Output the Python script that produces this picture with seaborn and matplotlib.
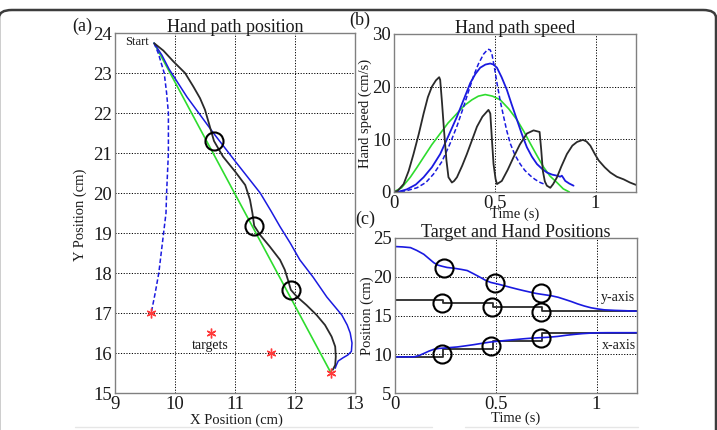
import matplotlib
matplotlib.use("Agg")
import matplotlib.pyplot as plt
import seaborn as sns
from matplotlib.patches import FancyBboxPatch
from matplotlib.lines import Line2D

# --- Panel (a): hand path position ---
start_xy = (9.65, 23.75)
target_x = [9.6, 10.6, 11.6, 12.6]
target_y = [17.0, 16.5, 16.0, 15.5]

green_x = [9.65, 12.6]
green_y = [23.75, 15.5]

dash_x = [9.65, 9.72, 9.78, 9.82, 9.86, 9.89, 9.89, 9.86, 9.85, 9.81, 9.73, 9.67, 9.61]
dash_y = [23.75, 23.5, 23.2, 23.0, 22.5, 22.0, 21.0, 20.0, 19.5, 19.0, 18.0, 17.5, 17.05]

blue_x = [9.65, 9.78, 9.9, 10.05, 10.2, 10.42, 10.64, 11.0, 11.42, 11.6, 11.75, 11.92,
          12.08, 12.3, 12.53, 12.78, 12.87, 12.92, 12.95, 12.94, 12.88, 12.8, 12.72,
          12.69, 12.67]
blue_y = [23.75, 23.45, 23.1, 22.75, 22.4, 21.95, 21.5, 20.8, 20.0, 19.55, 19.16, 18.75,
          18.33, 17.9, 17.4, 16.95, 16.7, 16.5, 16.25, 16.04, 15.95, 15.88, 15.8,
          15.7, 15.62]

black_x = [9.656, 9.806, 9.972, 10.167, 10.306, 10.417, 10.5, 10.556, 10.611, 10.65,
           10.8, 11.0, 11.17, 11.25, 11.29, 11.32, 11.42, 11.58, 11.75, 11.83, 11.89,
           11.93, 12.03, 12.19, 12.36, 12.5, 12.61, 12.67, 12.68, 12.67, 12.63]
black_y = [23.74, 23.56, 23.29, 23.0, 22.66, 22.37, 22.08, 21.79, 21.5, 21.3,
           20.91, 20.54, 20.2, 19.83, 19.5, 19.18, 18.95, 18.66, 18.33, 18.08, 17.79,
           17.58, 17.41, 17.2, 16.95, 16.7, 16.41, 16.16, 15.91, 15.7, 15.58]

circle_x = [10.65, 11.32, 11.93]
circle_y = [21.3, 19.18, 17.58]

# --- Panel (b): hand path speed ---
spd_black_t = [0, 0.02, 0.05, 0.075, 0.099, 0.125, 0.149, 0.17, 0.19, 0.21, 0.226, 0.231,
               0.24, 0.25, 0.262, 0.272, 0.289, 0.3, 0.314, 0.34, 0.363, 0.39, 0.413, 0.44,
               0.47, 0.479, 0.487, 0.495, 0.505, 0.512, 0.536, 0.565, 0.594, 0.625, 0.66,
               0.693, 0.723, 0.731, 0.739, 0.749, 0.759, 0.776, 0.79, 0.809, 0.83, 0.858,
               0.885, 0.908, 0.937, 0.955, 0.974, 0.995, 1.015, 1.045, 1.073, 1.105, 1.139,
               1.17, 1.2]
spd_black_v = [0, 0.2, 1.5, 4.0, 7.2, 11.0, 14.9, 18.0, 20.0, 21.2, 21.8, 21.3,
               17.0, 11.7, 6.0, 2.8, 1.8, 2.1, 2.8, 5.0, 7.2, 10.0, 12.4, 14.3,
               15.6, 14.9, 10.0, 5.3, 2.5, 1.5, 2.1, 4.2, 6.6, 9.0, 11.1,
               11.7, 11.4, 8.0, 4.0, 2.0, 1.2, 0.8, 1.5, 2.8, 4.8, 7.2,
               8.8, 9.5, 9.9, 9.6, 8.8, 7.3, 6.0, 4.7, 3.7, 2.9, 2.4,
               1.8, 1.35]

spd_green_t = [0, 0.04, 0.083, 0.115, 0.149, 0.19, 0.231, 0.27, 0.314, 0.35, 0.388, 0.42,
               0.454, 0.49, 0.528, 0.57, 0.611, 0.645, 0.677, 0.71, 0.743, 0.775, 0.809,
               0.84, 0.87]
spd_green_v = [0, 0.8, 2.8, 4.6, 6.6, 9.0, 11.1, 13.1, 14.9, 16.4, 17.5, 18.2,
               18.5, 18.2, 17.5, 15.8, 13.7, 11.5, 9.2, 6.9, 4.7, 3.0, 1.8,
               0.6, 0]

spd_blue_t = [0, 0.03, 0.066, 0.11, 0.149, 0.19, 0.231, 0.27, 0.314, 0.35, 0.38, 0.405,
              0.429, 0.455, 0.479, 0.495, 0.512, 0.535, 0.561, 0.585, 0.611, 0.635, 0.66,
              0.685, 0.71, 0.735, 0.759, 0.785, 0.809, 0.825, 0.833, 0.84, 0.85, 0.87,
              0.891]
spd_blue_v = [0, 0.1, 0.5, 1.4, 2.8, 4.7, 7.2, 10.5, 14.3, 17.8, 20.7, 22.4,
              23.6, 24.2, 24.4, 24.2, 23.6, 21.8, 19.4, 16.6, 13.7, 11.0, 8.5,
              6.7, 5.3, 4.4, 3.7, 3.3, 3.1, 2.9, 3.1, 2.7, 2.1, 1.6,
              1.2]

spd_dash_t = [0, 0.06, 0.116, 0.16, 0.198, 0.24, 0.28, 0.315, 0.347, 0.372, 0.396, 0.42,
              0.446, 0.467, 0.478, 0.487, 0.5, 0.512, 0.528, 0.545, 0.56, 0.578, 0.6,
              0.627, 0.65, 0.677, 0.7, 0.726, 0.746]
spd_dash_v = [0, 0.2, 0.8, 1.8, 3.4, 5.8, 9.2, 12.6, 16.2, 19.2, 22.0, 24.3,
              26.2, 27.1, 27.0, 26.2, 23.5, 20.7, 17.3, 14.3, 11.7, 9.2, 7.1,
              5.3, 4.1, 3.1, 2.4, 1.8, 1.5]

# --- Panel (c): target and hand positions over time ---
hy_t = [0, 0.04, 0.079, 0.11, 0.145, 0.17, 0.195, 0.215, 0.236, 0.26, 0.294, 0.33, 0.36,
        0.39, 0.426, 0.45, 0.476, 0.496, 0.52, 0.542, 0.575, 0.608, 0.64, 0.674, 0.7,
        0.724, 0.75, 0.774, 0.81, 0.84, 0.875, 0.906, 0.94, 0.972, 1.005, 1.038, 1.09,
        1.137, 1.2]
hy_v = [23.9, 23.85, 23.76, 23.4, 22.9, 22.35, 21.8, 21.5, 21.35, 21.2, 21.1, 20.95, 20.8,
        20.4, 19.9, 19.55, 19.27, 19.15, 19.0, 18.85, 18.62, 18.4, 18.2, 18.0, 17.85,
        17.75, 17.65, 17.56, 17.35, 17.1, 16.8, 16.5, 16.22, 16.0, 15.85, 15.73, 15.66,
        15.62, 15.56]

hx_t = [0, 0.096, 0.12, 0.145, 0.17, 0.195, 0.22, 0.245, 0.31, 0.35, 0.393, 0.435, 0.476,
        0.52, 0.559, 0.6, 0.641, 0.68, 0.724, 0.765, 0.807, 0.85, 0.889, 0.93, 0.972,
        1.01, 1.055, 1.2]
hx_v = [9.66, 9.66, 9.82, 10.1, 10.4, 10.64, 10.75, 10.8, 10.94, 11.08, 11.24, 11.42, 11.58,
        11.7, 11.8, 11.9, 12.0, 12.08, 12.14, 12.2, 12.3, 12.45, 12.56, 12.66, 12.73,
        12.77, 12.78, 12.78]

step_t = [0, 0.24, 0.485, 0.73, 1.2]
ty_v = [17.05, 16.6, 16.07, 15.55, 15.55]
tx_v = [9.65, 10.7, 11.7, 12.72, 12.72]

c_hand_t = [0.245, 0.496, 0.724]
c_hand_y = [21.15, 19.2, 17.85]
c_targ_t = [0.236, 0.484, 0.727]
c_targ_y = [16.65, 16.14, 15.5]
c_x_t = [0.236, 0.476, 0.727]
c_x_v = [10.03, 11.1, 12.14]

BLUE = "#1a1ae0"
GREEN = "#2edc2e"
BLACK = "#2a2a2a"
RED = "#ff3a3a"

sns.set_theme(style="white")
plt.rcParams["font.family"] = ["Liberation Serif", "DejaVu Serif"]

fig = plt.figure(figsize=(7.17, 4.30), dpi=100)
W, H = 717.0, 430.0


def px_axes(l, t, r, b):
    return fig.add_axes([l / W, 1 - b / H, (r - l) / W, (b - t) / H])


ax_a = px_axes(115, 33, 355, 393)
ax_b = px_axes(393.5, 34, 636, 192)
ax_c = px_axes(394.5, 238, 637, 393)


def style(ax):
    for s in ax.spines.values():
        s.set_color("#808080")
        s.set_linewidth(1.0)
    ax.grid(True, color="black", linestyle=(0, (1.2, 1.6)), linewidth=0.7)
    ax.tick_params(axis="both", direction="in", length=2.5, color="#808080",
                   labelsize=13.5, pad=2, labelcolor="#1a1a1a")
    ax.set_axisbelow(True)


def path(ax, x, y, color, lw, **kw):
    sns.lineplot(x=x, y=y, ax=ax, color=color, lw=lw, sort=False, estimator=None, **kw)


# panel (a)
path(ax_a, green_x, green_y, GREEN, 1.2)
path(ax_a, dash_x, dash_y, BLUE, 1.1, linestyle=(0, (3, 1.6)))
path(ax_a, blue_x, blue_y, BLUE, 1.1)
path(ax_a, black_x, black_y, BLACK, 1.3)
ax_a.plot(circle_x, circle_y, "o", ms=13, mfc="none", mec="black", mew=1.5)
ax_a.plot(target_x, target_y, ls="none", marker=(6, 2, 0), ms=7, color=RED, mew=1.0)
ax_a.text(start_xy[0] - 0.08, start_xy[1] + 0.02, "Start", ha="right", va="center",
          fontsize=9, color="#1a1a1a")
ax_a.text(10.58, 16.2, "targets", ha="center", va="center", fontsize=10, color="#1a1a1a")
ax_a.set_xlim(9, 13)
ax_a.set_ylim(15, 24)
ax_a.set_xticks([9, 10, 11, 12, 13])
ax_a.set_yticks(range(15, 25))
style(ax_a)
ax_a.set_title("Hand path position", fontsize=13, pad=1)
ax_a.set_xlabel("X Position (cm)", fontsize=10.5)
ax_a.set_ylabel("Y Position (cm)", fontsize=10.5)
ax_a.xaxis.set_label_coords(0.504, -0.075)
ax_a.yaxis.set_label_coords(-0.146, 0.494)

# panel (b)
path(ax_b, spd_green_t, spd_green_v, GREEN, 1.2)
path(ax_b, spd_dash_t, spd_dash_v, BLUE, 1.1, linestyle=(0, (3, 1.6)))
path(ax_b, spd_blue_t, spd_blue_v, BLUE, 1.3)
path(ax_b, spd_black_t, spd_black_v, BLACK, 1.3)
ax_b.set_xlim(0, 1.2)
ax_b.set_ylim(0, 30)
ax_b.set_xticks([0, 0.5, 1])
ax_b.set_xticklabels(["0", "0.5", "1"])
ax_b.set_yticks([0, 10, 20, 30])
style(ax_b)
ax_b.set_title("Hand path speed", fontsize=13, pad=1)
ax_b.set_xlabel("Time (s)", fontsize=10.5)
ax_b.set_ylabel("Hand speed (cm/s)", fontsize=10.5)
ax_b.xaxis.set_label_coords(0.5, -0.139)
ax_b.yaxis.set_label_coords(-0.1175, 0.5)

# panel (c)
ax_c.step(step_t, ty_v, where="post", color=BLACK, lw=1.3)
ax_c.step(step_t, tx_v, where="post", color=BLACK, lw=1.3)
path(ax_c, hy_t, hy_v, BLUE, 1.2)
path(ax_c, hx_t, hx_v, BLUE, 1.2)
for tt, vv in [(c_hand_t, c_hand_y), (c_targ_t, c_targ_y), (c_x_t, c_x_v)]:
    ax_c.plot(tt, vv, "o", ms=13, mfc="none", mec="black", mew=1.5)
ax_c.text(1.105, 17.35, "y-axis", ha="center", va="center", fontsize=10, color="#1a1a1a")
ax_c.text(1.11, 11.1, "x-axis", ha="center", va="center", fontsize=10, color="#1a1a1a")
ax_c.set_xlim(0, 1.2)
ax_c.set_ylim(5, 25)
ax_c.set_xticks([0, 0.5, 1])
ax_c.set_xticklabels(["0", "0.5", "1"])
ax_c.set_yticks([5, 10, 15, 20, 25])
style(ax_c)
ax_c.set_title("Target and Hand Positions", fontsize=13, pad=1)
ax_c.set_xlabel("Time (s)", fontsize=10.5)
ax_c.set_ylabel("Position (cm)", fontsize=10.5)
ax_c.xaxis.set_label_coords(0.5, -0.161)
ax_c.yaxis.set_label_coords(-0.113, 0.497)

for ax in (ax_a, ax_b, ax_c):
    ax.xaxis.label.set_va("center")
    ax.yaxis.label.set_va("center")
    ax.xaxis.label.set_color("#1a1a1a")
    ax.yaxis.label.set_color("#1a1a1a")
    ax.title.set_color("#1a1a1a")

# panel letters
fig.text(72 / W, 1 - 26 / H, "(a)", fontsize=13, ha="left", va="center", color="#1a1a1a")
fig.text(349 / W, 1 - 20 / H, "(b)", fontsize=13, ha="left", va="center", color="#1a1a1a")
fig.text(355 / W, 1 - 219 / H, "(c)", fontsize=13, ha="left", va="center", color="#1a1a1a")

# outer rounded frame and faint bottom rules
frame = FancyBboxPatch((-1 / W, -40 / H), 717 / W, 460 / H, transform=fig.transFigure,
                       boxstyle="round,pad=0,rounding_size=0.018", fill=False,
                       edgecolor="#3c3c3c", lw=1.8, clip_on=False)
fig.patches.append(frame)
fig.lines.append(Line2D([75 / W, 432 / W], [1 - 427 / H] * 2, transform=fig.transFigure,
                        color="#e6e6e6", lw=1.0))
fig.lines.append(Line2D([465 / W, 638 / W], [1 - 427 / H] * 2, transform=fig.transFigure,
                        color="#e6e6e6", lw=1.0))

fig.savefig("out.png", dpi=100)
